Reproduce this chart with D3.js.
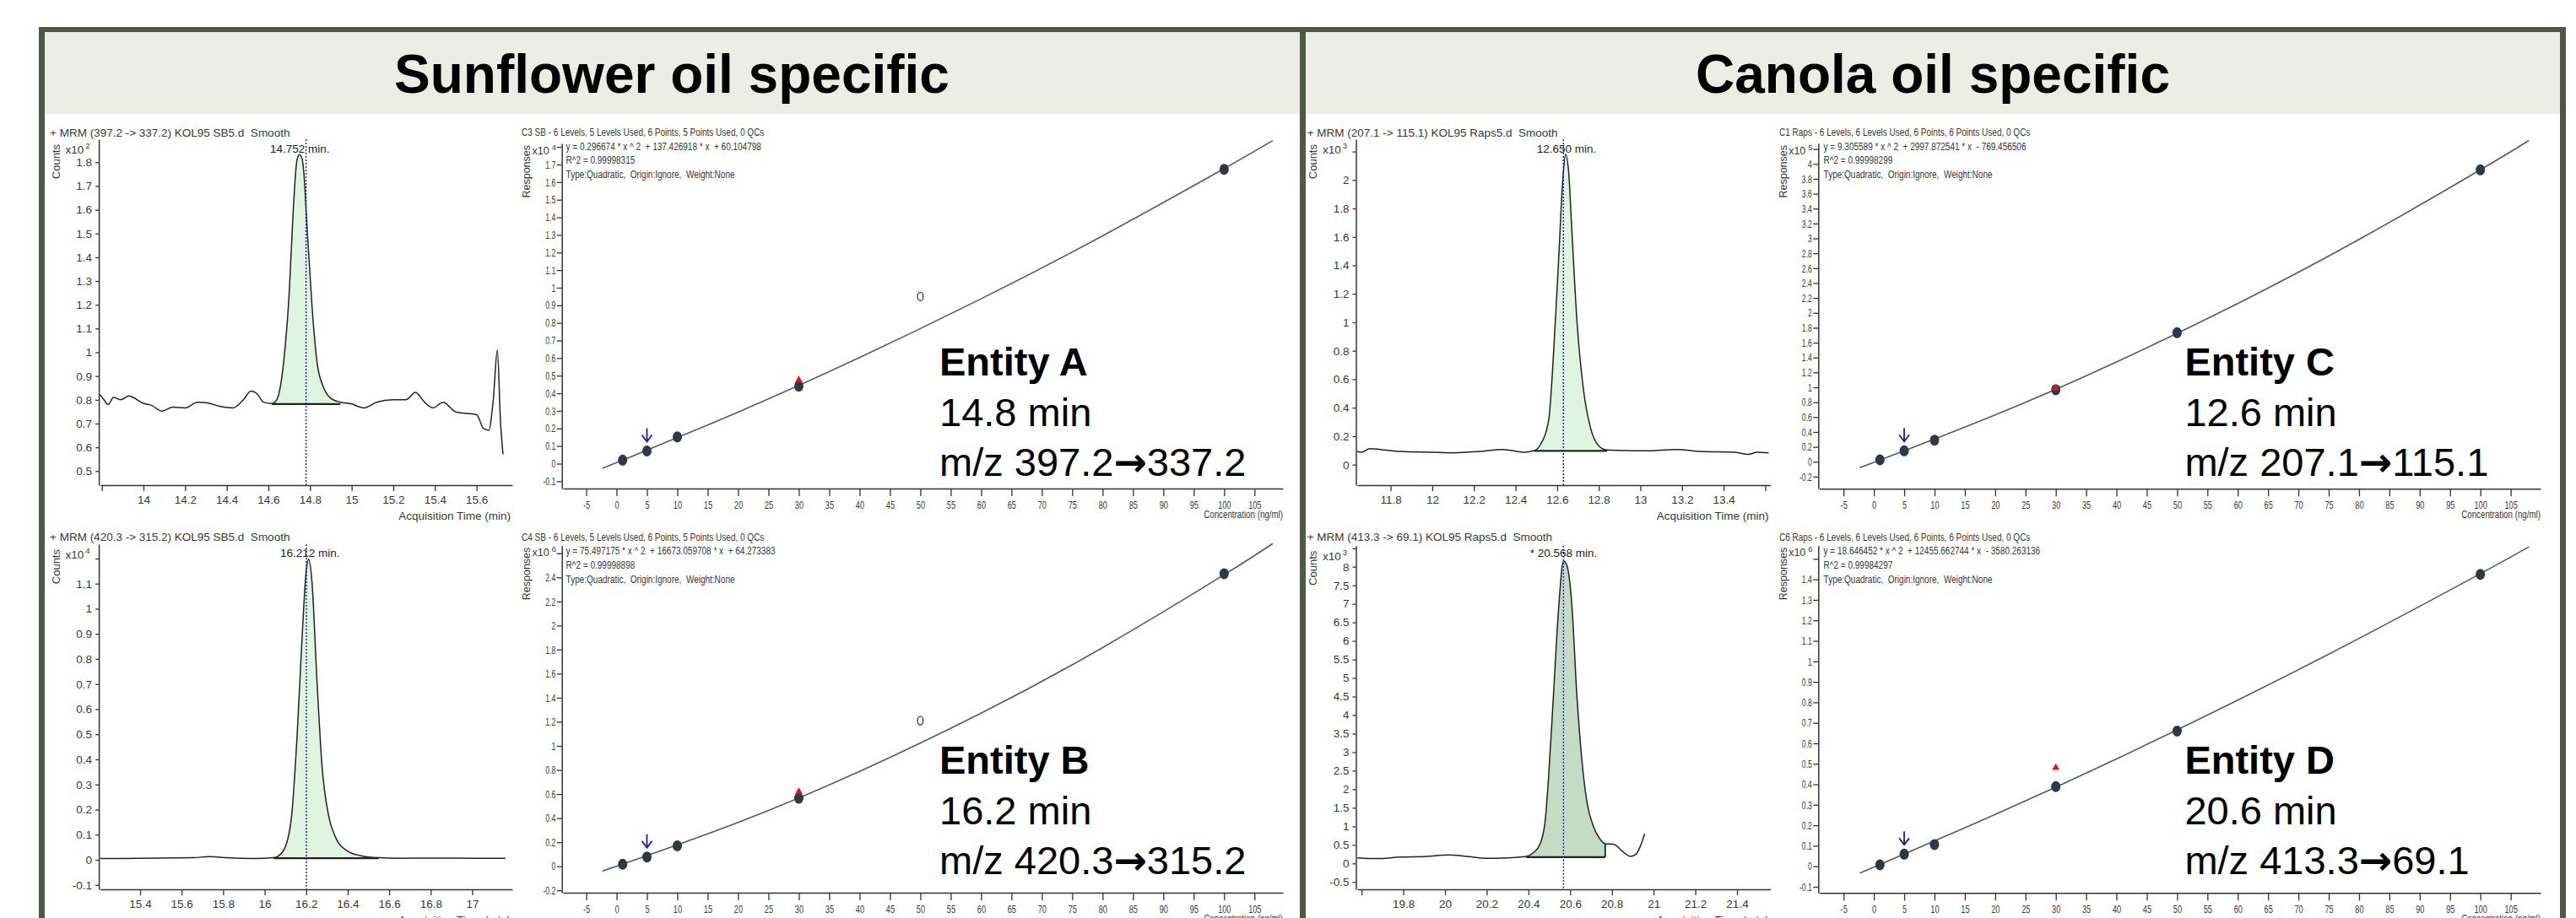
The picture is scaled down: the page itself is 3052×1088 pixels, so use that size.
<!DOCTYPE html>
<html>
<head>
<meta charset="utf-8">
<script src="https://cdn.jsdelivr.net/npm/d3@7"></script>
<style>
  body { margin: 0; background: #fff; }
  svg { display: block; }
  text { white-space: pre; }
</style>
</head>
<body>
<svg id="chart" width="3052" height="1088"></svg>
<script>
// ---------- values ----------
var sectionTitles = ["Sunflower oil specific", "Canola oil specific"];

var chromTitles = [
  "+ MRM (397.2 -> 337.2) KOL95 SB5.d  Smooth",
  "+ MRM (420.3 -> 315.2) KOL95 SB5.d  Smooth",
  "+ MRM (207.1 -> 115.1) KOL95 Raps5.d  Smooth",
  "+ MRM (413.3 -> 69.1) KOL95 Raps5.d  Smooth"
];
var rtLabels = ["14.752 min.", "16.212 min.", "12.650 min.", "* 20.568 min."];
var rtMarks = [14.781, 16.201, 12.63, 20.568];
var countsExponent = ["2", "4", "3", "3"];

// chromatogram traces (time in min, counts in the axis unit)
var chromA_time = [13.79, 13.81, 13.83, 13.856, 13.89, 13.93, 13.95, 14.0, 14.04, 14.09, 14.14, 14.2, 14.26, 14.3, 14.37, 14.43, 14.48, 14.516, 14.545, 14.577, 14.617, 14.64, 14.673, 14.70, 14.72, 14.737, 14.749, 14.762, 14.77, 14.786, 14.81, 14.834, 14.866, 14.898, 14.946, 14.994, 15.06, 15.12, 15.2, 15.26, 15.307, 15.35, 15.39, 15.44, 15.5, 15.55, 15.6, 15.635, 15.66, 15.675, 15.68, 15.70, 15.715, 15.727];
var chromA_counts = [0.823, 0.80, 0.78, 0.81, 0.80, 0.816, 0.81, 0.785, 0.776, 0.752, 0.769, 0.766, 0.79, 0.788, 0.772, 0.766, 0.80, 0.837, 0.826, 0.79, 0.784, 0.80, 0.956, 1.25, 1.607, 1.808, 1.832, 1.814, 1.76, 1.524, 1.19, 0.956, 0.85, 0.808, 0.79, 0.784, 0.766, 0.79, 0.80, 0.80, 0.831, 0.79, 0.766, 0.79, 0.749, 0.743, 0.737, 0.678, 0.672, 0.755, 0.795, 1.009, 0.71, 0.571];
var chromB_time = [15.207, 15.657, 15.73, 15.82, 15.947, 16.043, 16.075, 16.107, 16.13, 16.156, 16.18, 16.2, 16.212, 16.228, 16.252, 16.276, 16.308, 16.34, 16.397, 16.46, 16.55, 16.654, 16.815, 17.008, 17.16];
var chromB_counts = [0.005, 0.008, 0.013, 0.008, 0.005, 0.008, 0.021, 0.069, 0.176, 0.49, 0.88, 1.15, 1.197, 1.106, 0.714, 0.377, 0.176, 0.092, 0.036, 0.017, 0.008, 0.006, 0.007, 0.006, 0.006];
var chromC_time = [11.64, 11.66, 11.70, 11.75, 11.845, 12.005, 12.1, 12.23, 12.34, 12.44, 12.49, 12.52, 12.56, 12.58, 12.606, 12.627, 12.64, 12.655, 12.67, 12.695, 12.727, 12.76, 12.8, 12.84, 12.935, 13.03, 13.175, 13.29, 13.45, 13.52, 13.56, 13.616];
var chromC_counts = [0.093, 0.087, 0.113, 0.107, 0.093, 0.087, 0.083, 0.093, 0.107, 0.087, 0.099, 0.142, 0.32, 0.715, 1.41, 2.0, 2.18, 2.06, 1.66, 1.01, 0.52, 0.26, 0.132, 0.103, 0.099, 0.097, 0.107, 0.093, 0.087, 0.073, 0.087, 0.083];
var chromD_time = [19.58, 19.672, 19.784, 19.912, 20.016, 20.104, 20.2, 20.296, 20.39, 20.424, 20.456, 20.48, 20.496, 20.52, 20.544, 20.568, 20.584, 20.608, 20.632, 20.656, 20.68, 20.712, 20.744, 20.768, 20.808, 20.848, 20.888, 20.912, 20.936, 20.957];
var chromD_counts = [0.15, 0.13, 0.17, 0.19, 0.23, 0.19, 0.14, 0.15, 0.19, 0.29, 0.53, 1.14, 2.28, 4.55, 6.82, 8.15, 8.04, 6.98, 4.55, 2.8, 1.67, 0.99, 0.65, 0.53, 0.52, 0.34, 0.19, 0.23, 0.46, 0.80];

// integrated peak: start, end, baseline level
var peakStart = [14.617, 16.043, 12.49, 20.39];
var peakEnd = [14.946, 16.55, 12.84, 20.768];
var peakBase = [0.782, 0.006, 0.097, 0.17];

// chromatogram ticks ("hidden" ones carry a tick but no label)
var chromA_xTicks = [13.8, 14, 14.2, 14.4, 14.6, 14.8, 15, 15.2, 15.4, 15.6];
var chromB_xTicks = [15.4, 15.6, 15.8, 16, 16.2, 16.4, 16.6, 16.8, 17];
var chromC_xTicks = [11.8, 12, 12.2, 12.4, 12.6, 12.8, 13, 13.2, 13.4, 13.6];
var chromD_xTicks = [19.6, 19.8, 20, 20.2, 20.4, 20.6, 20.8, 21, 21.2, 21.4];
var chromX_hidden = [[13.8], [], [13.6], [19.6]];
var chromA_yTicks = [0.5, 0.6, 0.7, 0.8, 0.9, 1, 1.1, 1.2, 1.3, 1.4, 1.5, 1.6, 1.7, 1.8];
var chromB_yTicks = [-0.1, 0, 0.1, 0.2, 0.3, 0.4, 0.5, 0.6, 0.7, 0.8, 0.9, 1, 1.1, 1.2];
var chromC_yTicks = [0, 0.2, 0.4, 0.6, 0.8, 1, 1.2, 1.4, 1.6, 1.8, 2, 2.2];
var chromD_yTicks = [-0.5, 0, 0.5, 1, 1.5, 2, 2.5, 3, 3.5, 4, 4.5, 5, 5.5, 6, 6.5, 7, 7.5, 8, 8.5];
var chromY_hidden = [[], [1.2], [2.2], [8.5]];

// calibration curves
var calibTitles = [
  "C3 SB - 6 Levels, 5 Levels Used, 6 Points, 5 Points Used, 0 QCs",
  "C4 SB - 6 Levels, 5 Levels Used, 6 Points, 5 Points Used, 0 QCs",
  "C1 Raps - 6 Levels, 6 Levels Used, 6 Points, 6 Points Used, 0 QCs",
  "C6 Raps - 6 Levels, 6 Levels Used, 6 Points, 6 Points Used, 0 QCs"
];
var calibEquations = [
  "y = 0.296674 * x ^ 2  + 137.426918 * x  + 60.104798",
  "y = 75.497175 * x ^ 2  + 16673.059708 * x  + 64.273383",
  "y = 9.305589 * x ^ 2  + 2997.872541 * x  - 769.456506",
  "y = 18.646452 * x ^ 2  + 12455.662744 * x  - 3580.263136"
];
var calibR2 = ["R^2 = 0.99998315", "R^2 = 0.99998898", "R^2 = 0.99998299", "R^2 = 0.99984297"];
var calibType = "Type:Quadratic,  Origin:Ignore,  Weight:None";
var respExponent = ["4", "6", "5", "6"];

var calibA_conc = [1, 5, 10, 30, 100];
var calibA_resp = [0.02, 0.072, 0.152, 0.44, 1.673];
var calibB_conc = [1, 5, 10, 30, 100];
var calibB_resp = [0.017, 0.077, 0.17, 0.565, 2.43];
var calibC_conc = [1, 5, 10, 30, 50, 100];
var calibC_resp = [0.026, 0.147, 0.29, 0.967, 1.733, 3.92];
var calibD_conc = [1, 5, 10, 30, 50, 100];
var calibD_resp = [0.007, 0.059, 0.106, 0.389, 0.66, 1.425];

// excluded level (drawn open), one per sunflower chart
var excludedConc = [50, 50, null, null];
var excludedResp = [0.95, 1.21, null, null];

// sample response (red triangle) at 30 ng/ml
var sampleConc = 30;
var sampleResp = [0.475, 0.62, 0.99, 0.481];
var arrowConc = 5;

// fitted curve
var fitConc = [-0.5, 0, 20, 40, 60, 80, 100, 108];
var fitA_resp = [-0.001, 0.006, 0.293, 0.603, 0.937, 1.295, 1.677, 1.836];
var fitB_resp = [-0.008, 0.0001, 0.364, 0.788, 1.272, 1.817, 2.422, 2.681];
var fitC_resp = [-0.023, -0.008, 0.629, 1.340, 2.126, 2.986, 3.921, 4.315];
var fitD_resp = [-0.01, -0.004, 0.253, 0.524, 0.811, 1.112, 1.428, 1.559];

var concTicks = [-5, 0, 5, 10, 15, 20, 25, 30, 35, 40, 45, 50, 55, 60, 65, 70, 75, 80, 85, 90, 95, 100, 105];
var calibA_yTicks = [-0.1, 0, 0.1, 0.2, 0.3, 0.4, 0.5, 0.6, 0.7, 0.8, 0.9, 1, 1.1, 1.2, 1.3, 1.4, 1.5, 1.6, 1.7, 1.8];
var calibB_yTicks = [-0.2, 0, 0.2, 0.4, 0.6, 0.8, 1, 1.2, 1.4, 1.6, 1.8, 2, 2.2, 2.4, 2.6];
var calibC_yTicks = [-0.2, 0, 0.2, 0.4, 0.6, 0.8, 1, 1.2, 1.4, 1.6, 1.8, 2, 2.2, 2.4, 2.6, 2.8, 3, 3.2, 3.4, 3.6, 3.8, 4, 4.2];
var calibD_yTicks = [-0.1, 0, 0.1, 0.2, 0.3, 0.4, 0.5, 0.6, 0.7, 0.8, 0.9, 1, 1.1, 1.2, 1.3, 1.4, 1.5];
var calibY_hidden = [[1.8], [2.6], [4.2], [1.5]];

var entityNames = ["Entity A", "Entity B", "Entity C", "Entity D"];
var entityTimes = ["14.8 min", "16.2 min", "12.6 min", "20.6 min"];
var mzFrom = ["397.2", "420.3", "207.1", "413.3"];
var mzTo = ["337.2", "315.2", "115.1", "69.1"];

// ---------- layout (pixels) ----------
var FONT = "'Liberation Sans', Arial, sans-serif";
var INK = "#383838";

// pixel calibration: [value1, px1, value2, px2]
var chromLayout = [
  {xCal: [14, 170, 15.6, 564.6], left: 118.6, right: 607, yCal: [1.8, 192.3, 0.5, 558.3], top: 165, bottom: 575, titleX: 59, titleY: 161.5, rtX: 320, rtY: 180.5, fill: "#dff5df"},
  {xCal: [15.4, 166, 17, 559.5], left: 118.6, right: 607, yCal: [1.1, 691.7, 0, 1019], top: 645, bottom: 1054, titleX: 59, titleY: 640.5, rtX: 332, rtY: 660, fill: "#dff5df"},
  {xCal: [11.8, 1647.6, 13.4, 2042.2], left: 1608, right: 2097.5, yCal: [2, 213.3, 0, 550.7], top: 165, bottom: 575, titleX: 1548.7, titleY: 161.5, rtX: 1820.7, rtY: 180.5, fill: "#dff5df"},
  {xCal: [19.8, 1662.6, 21.4, 2058], left: 1608, right: 2097.5, yCal: [8, 671.7, 0, 1023.3], top: 646.7, bottom: 1054, titleX: 1548.7, titleY: 640.5, rtX: 1812.8, rtY: 660, fill: "#c4dcc4", drop: true}
];
var calibLayout = [
  {xCal: [-5, 694.5, 105, 1486.3], left: 667, right: 1520, yCal: [1.7, 195, 0, 549.5], top: 170, bottom: 579, titleX: 618, titleY: 161, eqX: 670.6, entX: 1113, entY: 445},
  {xCal: [-5, 694.5, 105, 1486.3], left: 667, right: 1520, yCal: [2.4, 684.3, 0, 1026.7], top: 646.7, bottom: 1058, titleX: 618, titleY: 640.5, eqX: 670.6, entX: 1113, entY: 917},
  {xCal: [-5, 2184.2, 105, 2974.6], left: 2155.6, right: 3010, yCal: [4, 194.3, 0, 547.3], top: 170, bottom: 579.3, titleX: 2108, titleY: 161, eqX: 2160.6, entX: 2588.4, entY: 445},
  {xCal: [-5, 2184.2, 105, 2974.6], left: 2155.6, right: 3010, yCal: [1.4, 686.7, 0, 1026.7], top: 646.7, bottom: 1058.3, titleX: 2108, titleY: 640.5, eqX: 2160.6, entX: 2588.4, entY: 917}
];

// tables built from the arrays above
var chroms = [
  {time: chromA_time, counts: chromA_counts, xTicks: chromA_xTicks, yTicks: chromA_yTicks},
  {time: chromB_time, counts: chromB_counts, xTicks: chromB_xTicks, yTicks: chromB_yTicks},
  {time: chromC_time, counts: chromC_counts, xTicks: chromC_xTicks, yTicks: chromC_yTicks},
  {time: chromD_time, counts: chromD_counts, xTicks: chromD_xTicks, yTicks: chromD_yTicks}
];
var calibs = [
  {conc: calibA_conc, resp: calibA_resp, fit: fitA_resp, yTicks: calibA_yTicks},
  {conc: calibB_conc, resp: calibB_resp, fit: fitB_resp, yTicks: calibB_yTicks},
  {conc: calibC_conc, resp: calibC_resp, fit: fitC_resp, yTicks: calibC_yTicks},
  {conc: calibD_conc, resp: calibD_resp, fit: fitD_resp, yTicks: calibD_yTicks}
];

var svg = d3.select("#chart");
svg.append("rect").attr("width", 3052).attr("height", 1088).attr("fill", "#fff");

// linear scale fixed by two known tick positions, stretched to the plot edges
function scaleFrom(cal, pa, pb) {
  var k = (cal[3] - cal[1]) / (cal[2] - cal[0]);
  return d3.scaleLinear()
    .domain([cal[0] + (pa - cal[1]) / k, cal[0] + (pb - cal[1]) / k])
    .range([pa, pb]);
}
function fmt(d) { return String(+d.toFixed(2)); }

// squeeze text horizontally (the calibration plots use a narrow font)
function narrow(sel, f) {
  sel.each(function() {
    var w = this.getComputedTextLength();
    if (w > 0) d3.select(this).attr("textLength", w * f).attr("lengthAdjust", "spacingAndGlyphs");
  });
}

function styleAxis(a, size) {
  a.attr("font-family", FONT).attr("font-size", size);
  a.select(".domain").attr("stroke", "#333").attr("stroke-width", 1.5);
  a.selectAll(".tick line").attr("stroke", "#333").attr("stroke-width", 1.3);
  a.selectAll(".tick text").attr("fill", INK);
}

// ---------- frame ----------
var frameColor = "#4f5844";
svg.append("rect").attr("x", 53).attr("y", 38).attr("width", 1487).attr("height", 97).attr("fill", "#eceee6");
svg.append("rect").attr("x", 1547).attr("y", 38).attr("width", 1486).attr("height", 97).attr("fill", "#eceee6");
[[46, 32, 7, 1056], [1540, 32, 7, 1056], [3033, 32, 7, 1056], [46, 32, 2994, 6]].forEach(function(r) {
  svg.append("rect").attr("x", r[0]).attr("y", r[1]).attr("width", r[2]).attr("height", r[3]).attr("fill", frameColor);
});

var sectionX = [796, 2290];
svg.selectAll("text.section").data(sectionTitles).join("text")
  .attr("class", "section")
  .attr("x", function(d, i) { return sectionX[i]; })
  .attr("y", 110)
  .attr("text-anchor", "middle")
  .attr("font-family", FONT)
  .attr("font-weight", "bold")
  .attr("font-size", 64)
  .attr("fill", "#000")
  .text(function(d) { return d; });

// ---------- chromatograms ----------
chroms.forEach(function(c, i) {
  var L = chromLayout[i];
  var x = scaleFrom(L.xCal, L.left, L.right);
  var y = scaleFrom(L.yCal, L.bottom, L.top);
  var g = svg.append("g").attr("font-family", FONT);
  var pts = c.time.map(function(t, j) { return [t, c.counts[j]]; });

  // integrated area
  var peak = pts.filter(function(d) { return d[0] >= peakStart[i] - 1e-6 && d[0] <= peakEnd[i] + 1e-6; });
  g.append("path").datum(peak)
    .attr("fill", L.fill)
    .attr("d", d3.area().curve(d3.curveMonotoneX)
      .x(function(d) { return x(d[0]); })
      .y0(y(peakBase[i]))
      .y1(function(d) { return y(d[1]); }));

  // axes
  var hx = chromX_hidden[i], hy = chromY_hidden[i];
  var xa = g.append("g").attr("transform", "translate(0," + L.bottom + ")")
    .call(d3.axisBottom(x).tickValues(c.xTicks).tickSize(7).tickPadding(5).tickSizeOuter(0)
      .tickFormat(function(d) { return hx.indexOf(d) >= 0 ? "" : fmt(d); }));
  var ya = g.append("g").attr("transform", "translate(" + (L.left - 1.5) + ",0)")
    .call(d3.axisLeft(y).tickValues(c.yTicks).tickSize(4).tickPadding(4).tickSizeOuter(0)
      .tickFormat(function(d) { return hy.indexOf(d) >= 0 ? "" : fmt(d); }));
  styleAxis(xa, 13.5);
  styleAxis(ya, 13.5);

  // baseline of the integration
  g.append("line")
    .attr("x1", x(peakStart[i])).attr("x2", x(peakEnd[i]))
    .attr("y1", y(peakBase[i])).attr("y2", y(peakBase[i]))
    .attr("stroke", "#222").attr("stroke-width", 2.2);
  if (L.drop) {
    var endVal = peak[peak.length - 1][1];
    g.append("line")
      .attr("x1", x(peakEnd[i])).attr("x2", x(peakEnd[i]))
      .attr("y1", y(peakBase[i])).attr("y2", y(endVal))
      .attr("stroke", "#222").attr("stroke-width", 1.8);
  }

  // trace
  g.append("path").datum(pts)
    .attr("fill", "none")
    .attr("stroke", "#222")
    .attr("stroke-width", 1.5)
    .attr("d", d3.line().curve(d3.curveMonotoneX)
      .x(function(d) { return x(d[0]); })
      .y(function(d) { return y(d[1]); }));

  // retention time marker
  g.append("line")
    .attr("x1", x(rtMarks[i])).attr("x2", x(rtMarks[i]))
    .attr("y1", L.top).attr("y2", L.bottom)
    .attr("stroke", "#1c1ca8").attr("stroke-width", 1.4)
    .attr("stroke-dasharray", "2,2");
  g.append("text").attr("x", L.rtX).attr("y", L.rtY)
    .attr("font-size", 13.5).attr("fill", "#222").text(rtLabels[i]);

  // titles and labels (the bottom row's axis title runs off the page, as in the original)
  g.append("text").attr("x", L.titleX).attr("y", L.titleY)
    .attr("font-size", 13.5).attr("fill", INK).text(chromTitles[i]);
  g.append("text").attr("x", L.right - 2).attr("y", L.bottom + 41)
    .attr("text-anchor", "end").attr("font-size", 13.5).attr("fill", INK)
    .text("Acquisition Time (min)");
  g.append("text")
    .attr("transform", "translate(" + (L.left - 47.6) + "," + (L.top + 6) + ") rotate(-90)")
    .attr("text-anchor", "end").attr("font-size", 13).attr("fill", INK)
    .text("Counts");
  var ex = g.append("text").attr("x", L.left - 12).attr("y", L.top + 17)
    .attr("text-anchor", "end").attr("font-size", 13.5).attr("fill", INK);
  ex.append("tspan").text("x10");
  ex.append("tspan").attr("dx", 2).attr("dy", -6).attr("font-size", 9.5).text(countsExponent[i]);
});

// ---------- calibration curves ----------
calibs.forEach(function(c, i) {
  var L = calibLayout[i];
  var x = scaleFrom(L.xCal, L.left, L.right);
  var y = scaleFrom(L.yCal, L.bottom, L.top);
  var g = svg.append("g").attr("font-family", FONT);

  var hy = calibY_hidden[i];
  var xa = g.append("g").attr("transform", "translate(0," + L.bottom + ")")
    .call(d3.axisBottom(x).tickValues(concTicks).tickSize(9).tickPadding(5).tickSizeOuter(0)
      .tickFormat(fmt));
  var ya = g.append("g").attr("transform", "translate(" + (L.left - 1.3) + ",0)")
    .call(d3.axisLeft(y).tickValues(c.yTicks).tickSize(6).tickPadding(1.5).tickSizeOuter(0)
      .tickFormat(function(d) { return hy.indexOf(d) >= 0 ? "" : fmt(d); }));
  styleAxis(xa, 13.5);
  styleAxis(ya, 13);
  narrow(xa.selectAll(".tick text"), 0.68);
  narrow(ya.selectAll(".tick text"), 0.66);

  // fitted curve
  var fit = fitConc.map(function(v, j) { return [v, c.fit[j]]; });
  g.append("path").datum(fit)
    .attr("fill", "none")
    .attr("stroke", "#555b63")
    .attr("stroke-width", 1.6)
    .attr("d", d3.line().curve(d3.curveNatural)
      .x(function(d) { return x(d[0]); })
      .y(function(d) { return y(d[1]); }));

  // excluded level
  if (excludedConc[i] !== null) {
    g.append("ellipse")
      .attr("cx", x(excludedConc[i])).attr("cy", y(excludedResp[i]))
      .attr("rx", 3.4).attr("ry", 5)
      .attr("fill", "none").attr("stroke", "#333").attr("stroke-width", 1.3);
  }

  // calibration levels
  g.selectAll("ellipse.lvl").data(c.conc).join("ellipse")
    .attr("class", "lvl")
    .attr("cx", function(d) { return x(d); })
    .attr("cy", function(d, j) { return y(c.resp[j]); })
    .attr("rx", 5.5).attr("ry", 6.5)
    .attr("fill", "#2e3946");

  // sample marker, on top of the level marks
  g.append("path")
    .attr("transform", "translate(" + x(sampleConc) + "," + y(sampleResp[i]) + ")")
    .attr("d", d3.symbol(d3.symbolTriangle, 34)())
    .attr("fill", "#e3121b");

  // blue arrow above the 5 ng/ml level
  var ax = x(arrowConc), ay = y(c.resp[c.conc.indexOf(arrowConc)]);
  g.append("path")
    .attr("d", "M" + ax + "," + (ay - 27) + "V" + (ay - 11) +
      "M" + (ax - 6) + "," + (ay - 19) + "L" + ax + "," + (ay - 11) + "L" + (ax + 6) + "," + (ay - 19))
    .attr("fill", "none").attr("stroke", "#1d1d9e").attr("stroke-width", 1.8);

  // texts
  var lines = [
    [L.titleX, L.titleY, calibTitles[i]],
    [L.eqX, L.titleY + 16.5, calibEquations[i]],
    [L.eqX, L.titleY + 33, calibR2[i]],
    [L.eqX, L.titleY + 50, calibType]
  ];
  lines.forEach(function(l) {
    g.append("text").attr("x", l[0]).attr("y", l[1])
      .attr("font-size", 12.5).attr("fill", INK).text(l[2])
      .call(narrow, 0.8);
  });
  g.append("text").attr("x", L.right).attr("y", L.bottom + 35)
    .attr("text-anchor", "end").attr("font-size", 12.5).attr("fill", INK)
    .text("Concentration (ng/ml)").call(narrow, 0.78);
  g.append("text")
    .attr("transform", "translate(" + (L.left - 39) + "," + (L.top + 2) + ") rotate(-90)")
    .attr("text-anchor", "end").attr("font-size", 12.5).attr("fill", INK)
    .text("Responses");
  var ex = g.append("text").attr("x", L.left - 8).attr("y", L.top + 12.5)
    .attr("text-anchor", "end").attr("font-size", 12.5).attr("fill", INK);
  ex.append("tspan").text("x10");
  ex.append("tspan").attr("dx", 3).attr("dy", -5).attr("font-size", 9.5).text(respExponent[i]);

  // entity annotation
  var t = g.append("g").attr("font-size", 47).attr("fill", "#000");
  t.append("text").attr("x", L.entX).attr("y", L.entY).attr("font-weight", "bold").text(entityNames[i]);
  t.append("text").attr("x", L.entX).attr("y", L.entY + 60).text(entityTimes[i]);
  var mz = t.append("text").attr("x", L.entX).attr("y", L.entY + 119);
  mz.append("tspan").text("m/z " + mzFrom[i]);
  mz.append("tspan").attr("font-family", "'DejaVu Sans', sans-serif").attr("font-weight", "bold").text("\u2192");
  mz.append("tspan").text(mzTo[i]);
});
</script>
</body>
</html>
